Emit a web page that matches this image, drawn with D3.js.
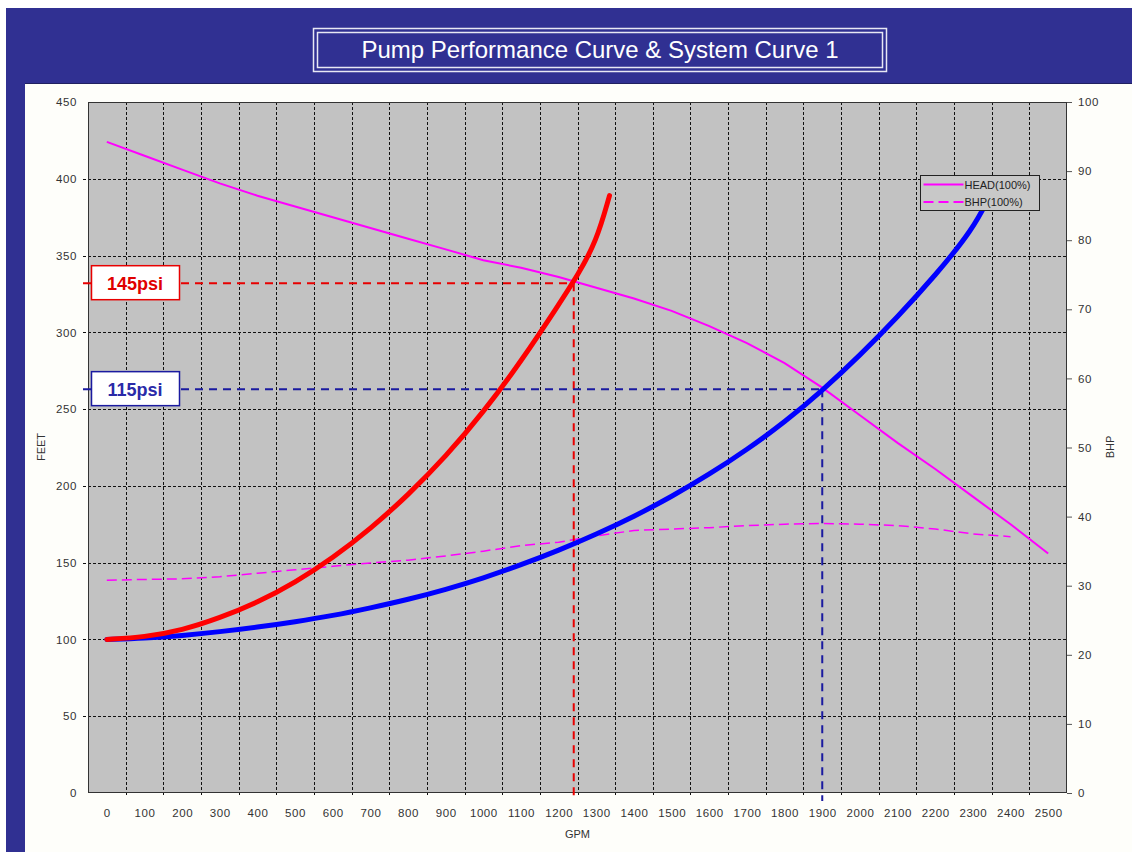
<!DOCTYPE html>
<html>
<head>
<meta charset="utf-8">
<script src="https://cdn.jsdelivr.net/npm/d3@7"></script>
<style>
  html, body { margin: 0; padding: 0; background: #ffffff; }
  svg { display: block; }
  text { font-family: "Liberation Sans", Arial, sans-serif; }
</style>
</head>
<body>
<script>
// ---------------- DATA ----------------
const xTicks = [0,100,200,300,400,500,600,700,800,900,1000,1100,1200,1300,1400,1500,1600,1700,1800,1900,2000,2100,2200,2300,2400,2500];
const feetTicks = [0,50,100,150,200,250,300,350,400,450];
const bhpTicks = [0,10,20,30,40,50,60,70,80,90,100];

const headGpm = [0,100,200,300,400,500,600,700,800,900,1000,1100,1200,1300,1400,1500,1600,1700,1800,1900,2000,2100,2200,2300,2400,2500];
const headFeet = [424,415,406,397,389,382,375,368,361,354,347,342,336,329,322,314,304,293,280,264,246,228,211,193,175,156];

const bhpGpm = [0,100,200,300,400,500,600,700,800,900,1000,1100,1200,1300,1400,1500,1600,1700,1800,1900,2000,2100,2200,2300,2400];
const bhpVal = [30.8,30.9,31.0,31.3,31.8,32.3,32.8,33.3,33.7,34.3,35.0,35.8,36.3,37.2,38.0,38.2,38.4,38.7,38.9,39.0,38.9,38.7,38.2,37.5,37.1];

const sys145Gpm = [0,100,200,300,400,500,600,700,800,900,1000,1100,1200,1250,1300,1335];
const sys145Feet = [100,101.5,106,114,124,137,153,172,194,219,248,281,318,337,359,389];

const sys115Gpm = [0,100,200,300,400,500,600,700,800,900,1000,1100,1200,1300,1400,1500,1600,1700,1800,1900,2000,2100,2200,2300,2345];
const sys115Feet = [100,100.8,102.5,105,108,111.5,115.5,120.5,126,132.5,140,148.5,158,168.5,180,193,207.5,223.5,241.5,262,285,310,337,367,389];

const gridX = [50,150,250,350,450,550,650,750,850,950,1050,1150,1250,1350,1450,1550,1650,1750,1850,1950,2050,2150,2250,2350,2450];
const gridY = [50,100,150,200,250,300,350,400];

const opPoints = [
  {label: "145psi", gpm: 1240, feet: 332, color: "#e80000", text: "#e00000"},
  {label: "115psi", gpm: 1900, feet: 263, color: "#1a1aa0", text: "#2a2aa8"}
];
const legendItems = [
  {label: "HEAD(100%)", dash: null},
  {label: "BHP(100%)", dash: "10,5"}
];
const title = "Pump Performance Curve & System Curve 1";

// ---------------- LAYOUT ----------------
const W = 1132, H = 852;
const P = {l: 88, r: 1067, t: 102, b: 793};
const blue = "#303092";

const svg = d3.select("body").append("svg").attr("width", W).attr("height", H);

// frame
svg.append("rect").attr("x",0).attr("y",0).attr("width",W).attr("height",H).attr("fill","#ffffff");
svg.append("rect").attr("x",6).attr("y",8).attr("width",W-6).attr("height",75).attr("fill",blue);
svg.append("rect").attr("x",6).attr("y",8).attr("width",19).attr("height",H-8).attr("fill",blue);
svg.append("rect").attr("x",25).attr("y",83).attr("width",W-25).attr("height",H-83).attr("fill","#fefefa");
svg.append("line").attr("x1",25).attr("x2",W).attr("y1",83.5).attr("y2",83.5).attr("stroke","#202060").attr("stroke-width",1);

// title box
svg.append("rect").attr("x",313.5).attr("y",28.5).attr("width",573).attr("height",43)
  .attr("fill","none").attr("stroke","#e8e8f4").attr("stroke-width",1.5);
svg.append("rect").attr("x",317.5).attr("y",32.5).attr("width",565).attr("height",35)
  .attr("fill","none").attr("stroke","#e8e8f4").attr("stroke-width",1.5);
svg.append("text").attr("x",600).attr("y",58).attr("text-anchor","middle")
  .attr("fill","#ffffff").attr("font-size",24)
  .attr("textLength",477).attr("lengthAdjust","spacingAndGlyphs")
  .text(title);

// scales
const x = d3.scaleLinear().domain([-50, 2550]).range([P.l, P.r]);
const y = d3.scaleLinear().domain([0, 450]).range([P.b, P.t]);
const y2 = d3.scaleLinear().domain([0, 100]).range([P.b, P.t]);

// plot bg
svg.append("rect").attr("x",P.l).attr("y",P.t).attr("width",P.r-P.l).attr("height",P.b-P.t)
  .attr("fill","#c2c2c2");

// grid
const g = svg.append("g");
g.selectAll(".gx").data(gridX).join("line")
  .attr("x1", d => Math.round(x(d))+0.5).attr("x2", d => Math.round(x(d))+0.5)
  .attr("y1", P.t).attr("y2", P.b+4)
  .attr("stroke","#111").attr("stroke-width",1).attr("stroke-dasharray","3,2");
g.selectAll(".gy").data(gridY).join("line")
  .attr("y1", d => Math.round(y(d))+0.5).attr("y2", d => Math.round(y(d))+0.5)
  .attr("x1", P.l-5).attr("x2", P.r)
  .attr("stroke","#111").attr("stroke-width",1).attr("stroke-dasharray","3,2");

// axes (labels only, custom styling)
const tickFont = 11.5, tickCol = "#333";
const axL = svg.append("g").attr("transform",`translate(${P.l},0)`)
  .call(d3.axisLeft(y).tickValues(feetTicks).tickFormat(d3.format("d")).tickSize(0).tickPadding(11));
const axR = svg.append("g").attr("transform",`translate(${P.r},0)`)
  .call(d3.axisRight(y2).tickValues(bhpTicks).tickFormat(d3.format("d")).tickSize(5).tickPadding(6));
const axB = svg.append("g").attr("transform",`translate(0,${P.b})`)
  .call(d3.axisBottom(x).tickValues(xTicks).tickFormat(d3.format("d")).tickSize(0).tickPadding(16));
[axL, axR, axB].forEach(a => {
  a.select(".domain").remove();
  a.selectAll("text").attr("font-size", tickFont).attr("fill", tickCol)
    .attr("font-family", '"Liberation Sans", Arial, sans-serif').attr("letter-spacing", 0.6);
  a.selectAll("line").attr("stroke","#555");
});

// plot border
svg.append("rect").attr("x",P.l+0.5).attr("y",P.t+0.5).attr("width",P.r-P.l-1).attr("height",P.b-P.t-1)
  .attr("fill","none").attr("stroke","#333").attr("stroke-width",1);

// axis titles
svg.append("text").attr("transform",`translate(45,447) rotate(-90)`).attr("text-anchor","middle")
  .attr("font-size",11).attr("fill","#333").text("FEET");
svg.append("text").attr("transform",`translate(1114,447) rotate(-90)`).attr("text-anchor","middle")
  .attr("font-size",11).attr("fill","#333").text("BHP");
svg.append("text").attr("x",(P.l+P.r)/2).attr("y",838).attr("text-anchor","middle")
  .attr("font-size",11).attr("fill","#333").text("GPM");

// series
const lineFeet = (xs, ys, curve) => d3.line().x((d,i) => x(xs[i])).y(d => y(d)).curve(curve)(ys);
const lineBhp = (xs, ys) => d3.line().x((d,i) => x(xs[i])).y(d => y2(d))(ys);

svg.append("path").attr("d", lineBhp(bhpGpm, bhpVal))
  .attr("fill","none").attr("stroke","#ff00ff").attr("stroke-width",1.5).attr("stroke-dasharray","10,5");
svg.append("path").attr("d", lineFeet(headGpm, headFeet, d3.curveLinear))
  .attr("fill","none").attr("stroke","#ff00ff").attr("stroke-width",2);

// operating point reference lines
opPoints.forEach(p => {
  svg.append("line").attr("x1", P.l-5).attr("x2", x(p.gpm)).attr("y1", y(p.feet)).attr("y2", y(p.feet))
    .attr("stroke", p.color).attr("stroke-width",2).attr("stroke-dasharray","8,6");
  svg.append("line").attr("x1", x(p.gpm)).attr("x2", x(p.gpm)).attr("y1", y(p.feet)).attr("y2", P.b+8)
    .attr("stroke", p.color).attr("stroke-width",2).attr("stroke-dasharray","8,6");
});

svg.append("path").attr("d", lineFeet(sys115Gpm, sys115Feet, d3.curveBasis))
  .attr("fill","none").attr("stroke","#0000ff").attr("stroke-width",5).attr("stroke-linecap","round");
svg.append("path").attr("d", lineFeet(sys145Gpm, sys145Feet, d3.curveBasis))
  .attr("fill","none").attr("stroke","#ff0000").attr("stroke-width",5).attr("stroke-linecap","round");

// label boxes
opPoints.forEach(p => {
  const cy = y(p.feet);
  svg.append("rect").attr("x",91.5).attr("y",cy-17.5).attr("width",88).attr("height",34)
    .attr("fill","#ffffff").attr("stroke",p.color).attr("stroke-width",1.5);
  svg.append("text").attr("x",135).attr("y",cy+6.5).attr("text-anchor","middle")
    .attr("font-size",18).attr("font-weight","bold").attr("fill",p.text).text(p.label);
});

// legend
const lg = svg.append("g").attr("transform","translate(920.5,175.5)");
lg.append("rect").attr("width",119).attr("height",35).attr("fill","#c8c8c8").attr("stroke","#222").attr("stroke-width",1);
legendItems.forEach((it, i) => {
  const yy = 9 + i*17.5;
  lg.append("line").attr("x1",3).attr("x2",43).attr("y1",yy).attr("y2",yy)
    .attr("stroke","#ff00ff").attr("stroke-width",2).attr("stroke-dasharray", it.dash);
  lg.append("text").attr("x",44).attr("y",yy+4).attr("font-size",11).attr("fill","#222").text(it.label);
});
</script>
</body>
</html>
